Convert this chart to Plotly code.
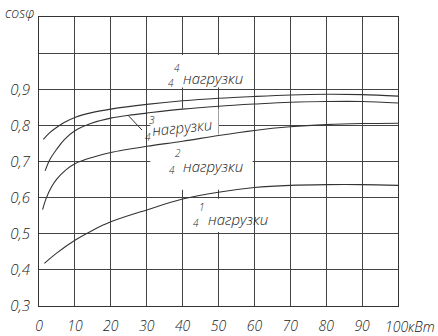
import plotly.graph_objects as go

# ---- data ----
x_q1 = [1.5, 5, 10, 15, 20, 30, 40, 50, 60, 70, 80, 90, 100]
y_q1 = [0.418, 0.447, 0.482, 0.510, 0.533, 0.566, 0.596, 0.615, 0.628, 0.634, 0.636, 0.636, 0.634]

x_q2 = [1, 2, 3.5, 5, 7.5, 10, 15, 20, 30, 40, 50, 60, 70, 80, 90, 100]
y_q2 = [0.567, 0.598, 0.630, 0.652, 0.677, 0.694, 0.712, 0.725, 0.742, 0.756, 0.772, 0.786, 0.796, 0.802, 0.805, 0.806]

x_q3 = [1.7, 3, 5, 7, 10, 15, 20, 25, 30, 40, 50, 60, 70, 80, 90, 100]
y_q3 = [0.674, 0.705, 0.735, 0.760, 0.785, 0.807, 0.820, 0.828, 0.834, 0.845, 0.853, 0.859, 0.864, 0.866, 0.866, 0.862]

x_q4 = [1.2, 3, 5, 7, 10, 15, 20, 30, 40, 50, 60, 70, 80, 90, 100]
y_q4 = [0.761, 0.780, 0.795, 0.808, 0.822, 0.836, 0.845, 0.858, 0.868, 0.875, 0.880, 0.884, 0.886, 0.885, 0.881]

x_ticks = [0, 10, 20, 30, 40, 50, 60, 70, 80, 90, 100]
x_ticktext = ["0", "10", "20", "30", "40", "50", "60", "70", "80", "90", ""]
x_unit_label = "100кВт"
y_ticks = [0.3, 0.4, 0.5, 0.6, 0.7, 0.8, 0.9, 1.0, 1.1]
y_ticktext = ["0,3", "0,4", "0,5", "0,6", "0,7", "0,8", "0,9", "", ""]
y_title = "cosφ"
load_word = "нагрузки"
numerators = ["1", "2", "3", "4"]
denominator = "4"

FONT = "Open Sans, DejaVu Sans, sans-serif"
WEIGHT = 300
INK = "#222222"
GRID = "#444444"

fig = go.Figure()
for xs, ys in [(x_q1, y_q1), (x_q2, y_q2), (x_q3, y_q3), (x_q4, y_q4)]:
    fig.add_trace(go.Scatter(x=xs, y=ys, mode="lines",
                             line=dict(color="#333333", width=1.1, shape="spline", smoothing=1.0),
                             hoverinfo="skip", showlegend=False))

# white masks behind the labels (above grid, below curves)
masks = [
    (34, 0.905, 57, 0.995),
    (31, 0.760, 50, 0.847),
    (31, 0.622, 59.5, 0.775),
    (41, 0.505, 59.5, 0.597),
]
for x0, y0, x1, y1 in masks:
    fig.add_shape(type="rect", x0=x0, y0=y0, x1=x1, y1=y1, xref="x", yref="y",
                  fillcolor="white", line=dict(width=0), layer="between")

# leader line for 3/4 label
fig.add_shape(type="line", x0=24.8, y0=0.828, x1=28.7, y1=0.787, xref="x", yref="y",
              line=dict(color="#333333", width=1))

def word(x, y, angle=0):
    fig.add_annotation(x=x, y=y, xref="x", yref="y", text=load_word, showarrow=False,
                       textangle=angle,
                       font=dict(family=FONT, size=15, color=INK, style="italic", weight=WEIGHT))

def small(x, y, t):
    fig.add_annotation(x=x, y=y, xref="x", yref="y", text=t, showarrow=False,
                       font=dict(family=FONT, size=10, color=INK, style="italic", weight=WEIGHT))

# 4/4
small(38.4, 0.958, numerators[3]); small(36.8, 0.917, denominator); word(48.5, 0.930)
# 3/4
small(31.5, 0.814, numerators[2]); small(30.3, 0.767, denominator); word(39.8, 0.795, -6)
# 2/4
small(38.8, 0.723, numerators[1]); small(37.0, 0.676, denominator); word(48.5, 0.687)
# 1/4
small(45.3, 0.575, numerators[0]); small(43.7, 0.529, denominator); word(55.4, 0.540)

# axis title cosφ
fig.add_annotation(x=-0.1, y=1.014, xref="paper", yref="paper", xanchor="left", yanchor="middle",
                   text=y_title, showarrow=False,
                   font=dict(family=FONT, size=14, color=INK, style="italic", weight=WEIGHT))
# 100кВт label
fig.add_annotation(x=100, y=0, xref="x", yref="paper", xanchor="left", yanchor="top",
                   xshift=-15, yshift=-9, text=x_unit_label, showarrow=False,
                   font=dict(family=FONT, size=14, color=INK, style="italic", weight=WEIGHT))

fig.update_layout(
    width=438, height=336,
    margin=dict(l=39, r=40, t=17, b=30, autoexpand=False),
    paper_bgcolor="white", plot_bgcolor="white",
    showlegend=False, hovermode=False,
)
fig.update_xaxes(range=[0, 100], tickmode="array", tickvals=x_ticks, ticktext=x_ticktext,
                 showgrid=True, gridcolor=GRID, gridwidth=1, zeroline=False,
                 showline=True, mirror=True, linecolor="#333333", linewidth=1,
                 ticks="", ticklabelstandoff=7, automargin=False,
                 tickfont=dict(family=FONT, size=14, color=INK, style="italic", weight=WEIGHT))
fig.update_yaxes(range=[0.3, 1.1], tickmode="array", tickvals=y_ticks, ticktext=y_ticktext,
                 showgrid=True, gridcolor=GRID, gridwidth=1, zeroline=False,
                 showline=True, mirror=True, linecolor="#333333", linewidth=1,
                 ticks="", ticklabelstandoff=5, automargin=False,
                 tickfont=dict(family=FONT, size=15, color=INK, style="italic", weight=WEIGHT))

fig.write_html("out.html", config={"displayModeBar": False})
